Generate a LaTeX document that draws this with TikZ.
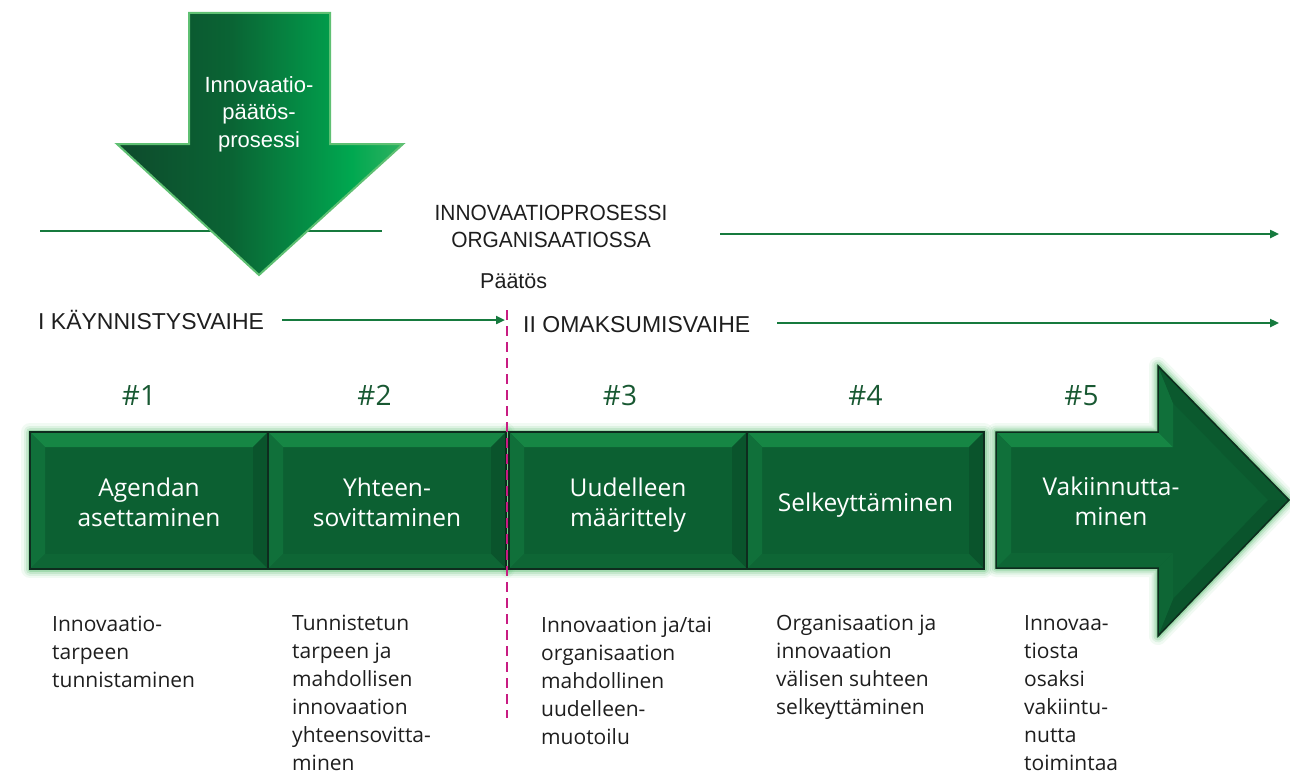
\documentclass[tikz,border=0pt]{standalone}
\usepackage{fontspec}
\setmainfont{Open Sans}
\newfontfamily\arialf{Liberation Sans}
\newfontfamily\condf[FakeStretch=0.95]{Liberation Sans}
\usetikzlibrary{arrows.meta}
\definecolor{lineg}{RGB}{22,122,62}
\definecolor{magen}{RGB}{200,28,130}
\definecolor{numg}{RGB}{24,88,50}
\definecolor{txt}{RGB}{30,30,30}
\definecolor{boxc}{RGB}{12,96,50}
\definecolor{bevt}{RGB}{22,134,68}
\definecolor{bevl}{RGB}{16,112,58}
\definecolor{bevr}{RGB}{10,84,44}
\definecolor{bevb}{RGB}{14,102,53}
\definecolor{boxedge}{RGB}{14,44,30}
\definecolor{glowg}{RGB}{80,185,105}
\definecolor{ga1}{RGB}{14,74,44}
\definecolor{ga2}{RGB}{10,100,52}
\definecolor{ga3}{RGB}{0,168,80}
\definecolor{ga4}{RGB}{85,185,110}
\definecolor{arrowedge}{RGB}{95,192,115}
\pgfdeclarehorizontalshading{bigarrow}{100bp}{color(0bp)=(ga1); color(25bp)=(ga1); color(45bp)=(ga2); color(66bp)=(ga3); color(82bp)=(ga4); color(100bp)=(ga4)}
\newcommand\glowit[1]{\foreach \w/\o in {18/0.08,13/0.12,9/0.18,5/0.3,2/0.45}{\draw[draw=glowg, line width=\w pt, draw opacity=\o, line join=round] #1;}}
\begin{document}
\begin{tikzpicture}[x=1pt,y=-1pt,
  flow/.style={draw=lineg, line width=2.5pt, -{Triangle[length=9pt,width=8pt]}},
  hdr/.style={font=\arialf\fontsize{23}{27}\selectfont, text=txt, inner sep=0},
  num/.style={font=\fontsize{28}{30}\selectfont, text=numg, inner sep=0, anchor=base},
  boxtxt/.style={font=\fontsize{24.5}{30}\selectfont, text=white, align=center, inner sep=0, anchor=north},
  desc/.style={font=\fontsize{21}{28}\selectfont, text=txt, align=left, anchor=north west, inner sep=0},
  stepbox/.style={minimum width=238pt, minimum height=137pt, inner sep=0, fill=boxc, draw=boxedge, line width=1.5pt,
    path picture={
      \fill[bevt] (path picture bounding box.north west) -- (path picture bounding box.north east)
        -- ([xshift=-15pt,yshift=-15pt]path picture bounding box.north east) -- ([xshift=15pt,yshift=-15pt]path picture bounding box.north west) -- cycle;
      \fill[bevl] (path picture bounding box.north west) -- (path picture bounding box.south west)
        -- ([xshift=15pt,yshift=15pt]path picture bounding box.south west) -- ([xshift=15pt,yshift=-15pt]path picture bounding box.north west) -- cycle;
      \fill[bevr] (path picture bounding box.north east) -- (path picture bounding box.south east)
        -- ([xshift=-15pt,yshift=15pt]path picture bounding box.south east) -- ([xshift=-15pt,yshift=-15pt]path picture bounding box.north east) -- cycle;
      \fill[bevb] (path picture bounding box.south west) -- (path picture bounding box.south east)
        -- ([xshift=-15pt,yshift=15pt]path picture bounding box.south east) -- ([xshift=15pt,yshift=15pt]path picture bounding box.south west) -- cycle;
    }}]
\useasboundingbox (0,0) rectangle (1290,776);

% top decision arrow
\coordinate (hl1) at (40,231);
\coordinate (hl2) at (382,231);
\draw[lineg, line width=2.5pt] (hl1) -- (hl2);
\path[shading=bigarrow, draw=arrowedge, line width=2pt, line join=miter]
  (189,13) -- (330,13) -- (330,144) -- (403,144) -- (259,275) -- (117,144) -- (189,144) -- cycle;
\node[font=\arialf\fontsize{22}{27.5}\selectfont, text=white, align=center, inner sep=0, anchor=north] (ipp) at (259,76) {Innovaatio-\\päätös-\\prosessi};

% headers
\node[font=\condf\fontsize{22}{27}\selectfont, text=txt, align=center, inner sep=0, anchor=north] (iporg) at (551,205) {INNOVAATIOPROSESSI\\ORGANISAATIOSSA};
\coordinate (a0s) at (720,234);
\coordinate (a0e) at (1279,234);
\draw[flow] (a0s) -- (a0e);

\node[font=\arialf\fontsize{21.5}{24}\selectfont, text=txt, inner sep=0, anchor=base west] (paatos) at (480,288) {Päätös};

\node[hdr, anchor=base west] (k1) at (38,329) {I KÄYNNISTYSVAIHE};
\coordinate (a1s) at (282,320);
\coordinate (a1e) at (505,320);
\draw[flow] (a1s) -- (a1e);

\node[hdr, anchor=base west] (k2) at (523,332) {II OMAKSUMISVAIHE};
\coordinate (a2s) at (777,323);
\coordinate (a2e) at (1279,323);
\draw[flow] (a2s) -- (a2e);

% numbers
\node[num] (n1) at (139,405) {\#1};
\node[num] (n2) at (374.5,405) {\#2};
\node[num] (n3) at (620,405) {\#3};
\node[num] (n4) at (865.5,405) {\#4};
\node[num] (n5) at (1081.5,405) {\#5};

% glows
\glowit{(30,432) rectangle (506,569)}
\glowit{(509,432) rectangle (984,569)}
\glowit{(996,432) -- (1158,432) -- (1158,366) -- (1289,500) -- (1158,636) -- (1158,568) -- (996,568) -- cycle}

% step boxes
\node[stepbox] (b1) at (149,500.5) {};
\node[stepbox] (b2) at (387,500.5) {};
\node[stepbox] (b3) at (628,500.5) {};
\node[stepbox, minimum width=237pt] (b4) at (865.5,500.5) {};

% final arrow box
\fill[boxc] (996,432) -- (1158,432) -- (1158,366) -- (1289,500) -- (1158,636) -- (1158,568) -- (996,568) -- cycle;
\fill[bevt] (996,432) -- (1158,432) -- (1173,447) -- (1011,447) -- cycle;
\fill[bevl] (1158,432) -- (1158,366) -- (1173,403) -- (1173,447) -- cycle;
\fill[bevr!60!boxc] (1158,366) -- (1289,500) -- (1268,500) -- (1173,403) -- cycle;
\fill[bevr] (1289,500) -- (1158,636) -- (1173,599) -- (1268,500) -- cycle;
\fill[bevb] (1158,636) -- (1158,568) -- (1173,553) -- (1173,599) -- cycle;
\fill[bevb] (1158,568) -- (996,568) -- (1011,553) -- (1173,553) -- cycle;
\fill[bevl] (996,568) -- (996,432) -- (1011,447) -- (1011,553) -- cycle;
\draw[boxedge, line width=1.5pt, line join=miter] (996,432) -- (1158,432) -- (1158,366) -- (1289,500) -- (1158,636) -- (1158,568) -- (996,568) -- cycle;

% box texts
\node[boxtxt] (t1) at (149,478) {Agendan\\asettaminen};
\node[boxtxt] (t2) at (387,478) {Yhteen-\\sovittaminen};
\node[boxtxt] (t3) at (628,478) {Uudelleen\\määrittely};
\node[boxtxt] (t4) at (865.5,493) {Selkeyttäminen};
\node[boxtxt] (t5) at (1111,477) {Vakiinnutta-\\minen};

% decision line
\coordinate (dtop) at (507,310);
\coordinate (dbot) at (507,718);
\draw[magen, line width=2.2pt, dash pattern=on 10pt off 6pt] (dtop) -- (dbot);

% descriptions
\node[desc] (d1) at (52,616) {Innovaatio-\\tarpeen\\tunnistaminen};
\node[desc] (d2) at (292,615) {Tunnistetun\\tarpeen ja\\mahdollisen\\innovaation\\yhteensovitta-\\minen};
\node[desc] (d3) at (541,617) {Innovaation ja/tai\\organisaation\\mahdollinen\\uudelleen-\\muotoilu};
\node[desc] (d4) at (776,615) {Organisaation ja\\innovaation\\välisen suhteen\\selkeyttäminen};
\node[desc] (d5) at (1024,615) {Innovaa-\\tiosta\\osaksi\\vakiintu-\\nutta\\toimintaa};
\end{tikzpicture}
\end{document}
